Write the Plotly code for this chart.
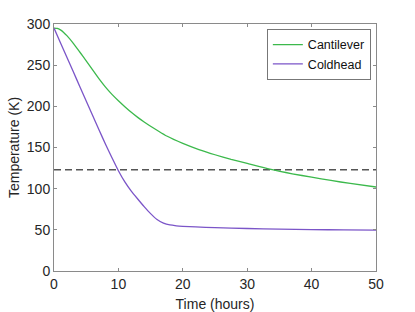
import plotly.graph_objects as go

# ---- data ----
cant_time = [0, 0.5, 1, 1.5, 2, 3, 4, 5, 6, 7, 8, 9, 10, 11, 12, 13, 14, 15, 16,
             17.5, 20, 22.5, 25, 27.5, 30, 33.5, 37, 40, 43, 46, 50]
cant_temp = [295, 294.6, 292.8, 289.8, 285.8, 276.5, 266, 255.3, 244.2, 233.3,
             223.3, 214.5, 206.8, 199.6, 192.8, 186.6, 181, 175.8, 171, 164, 155,
             147.5, 141.2, 135.6, 130.6, 123.6, 118, 114, 110, 106.3, 102]

cold_time = [0, 1, 2, 3, 4, 5, 6, 7, 8, 9, 10, 11, 12, 13, 14, 15, 16, 17, 18,
             19, 20, 22, 25, 30, 35, 40, 45, 50]
cold_temp = [295, 277.3, 259.6, 241.9, 224.2, 206.5, 188.8, 171.2, 154, 137.6,
             121.8, 108.2, 97, 87.5, 78.2, 69.7, 62.6, 58.2, 55.9, 54.9, 54.3,
             53.5, 52.6, 51.6, 50.9, 50.3, 49.9, 49.6]

threshold_time = [0, 50]
threshold_temp = [123, 123]

x_ticks = [0, 10, 20, 30, 40, 50]
y_ticks = [0, 50, 100, 150, 200, 250, 300]

GREEN = "#3cb94c"
PURPLE = "#7b55c8"
AXIS = "#8a8a8a"
FONT = "Liberation Sans, Arial, Helvetica, sans-serif"

fig = go.Figure()
fig.add_trace(go.Scatter(x=threshold_time, y=threshold_temp, mode="lines",
                         line=dict(color="#555555", width=1.4, dash="7px,4px"),
                         showlegend=False, hoverinfo="skip"))
fig.add_trace(go.Scatter(x=cant_time, y=cant_temp, mode="lines", name="Cantilever",
                         line=dict(color=GREEN, width=1.3, shape="spline", smoothing=0.5)))
fig.add_trace(go.Scatter(x=cold_time, y=cold_temp, mode="lines", name="Coldhead",
                         line=dict(color=PURPLE, width=1.3, shape="spline", smoothing=0.5)))

axis_common = dict(showline=True, linecolor=AXIS, linewidth=1, mirror="ticks",
                   ticks="inside", ticklen=3, tickcolor=AXIS, tickwidth=1,
                   showgrid=False, zeroline=False, automargin=False,
                   tickfont=dict(family=FONT, size=14, color="#262626"))

fig.update_layout(
    width=415, height=312,
    margin=dict(l=54, r=39, t=24, b=41),
    paper_bgcolor="white", plot_bgcolor="white",
    font=dict(family=FONT, size=14, color="#262626"),
    xaxis=dict(range=[0, 50], tickvals=x_ticks,
               title=dict(text="Time (hours)", standoff=8,
                          font=dict(family=FONT, size=14, color="#262626")),
               **axis_common),
    yaxis=dict(range=[0, 300], tickvals=y_ticks,
               title=dict(text="Temperature (K)", standoff=3,
                          font=dict(family=FONT, size=14, color="#262626")),
               **axis_common),
    legend=dict(x=0.984, y=0.98, xanchor="right", yanchor="top",
                bgcolor="white", bordercolor="#777777", borderwidth=1,
                font=dict(family=FONT, size=12.5, color="#111111"),
                tracegroupgap=0, itemwidth=30),
)

fig.write_html("out.html",
               config={"displayModeBar": False},
               post_script="document.body.style.margin='0';"
                           "document.body.style.overflow='hidden';")
